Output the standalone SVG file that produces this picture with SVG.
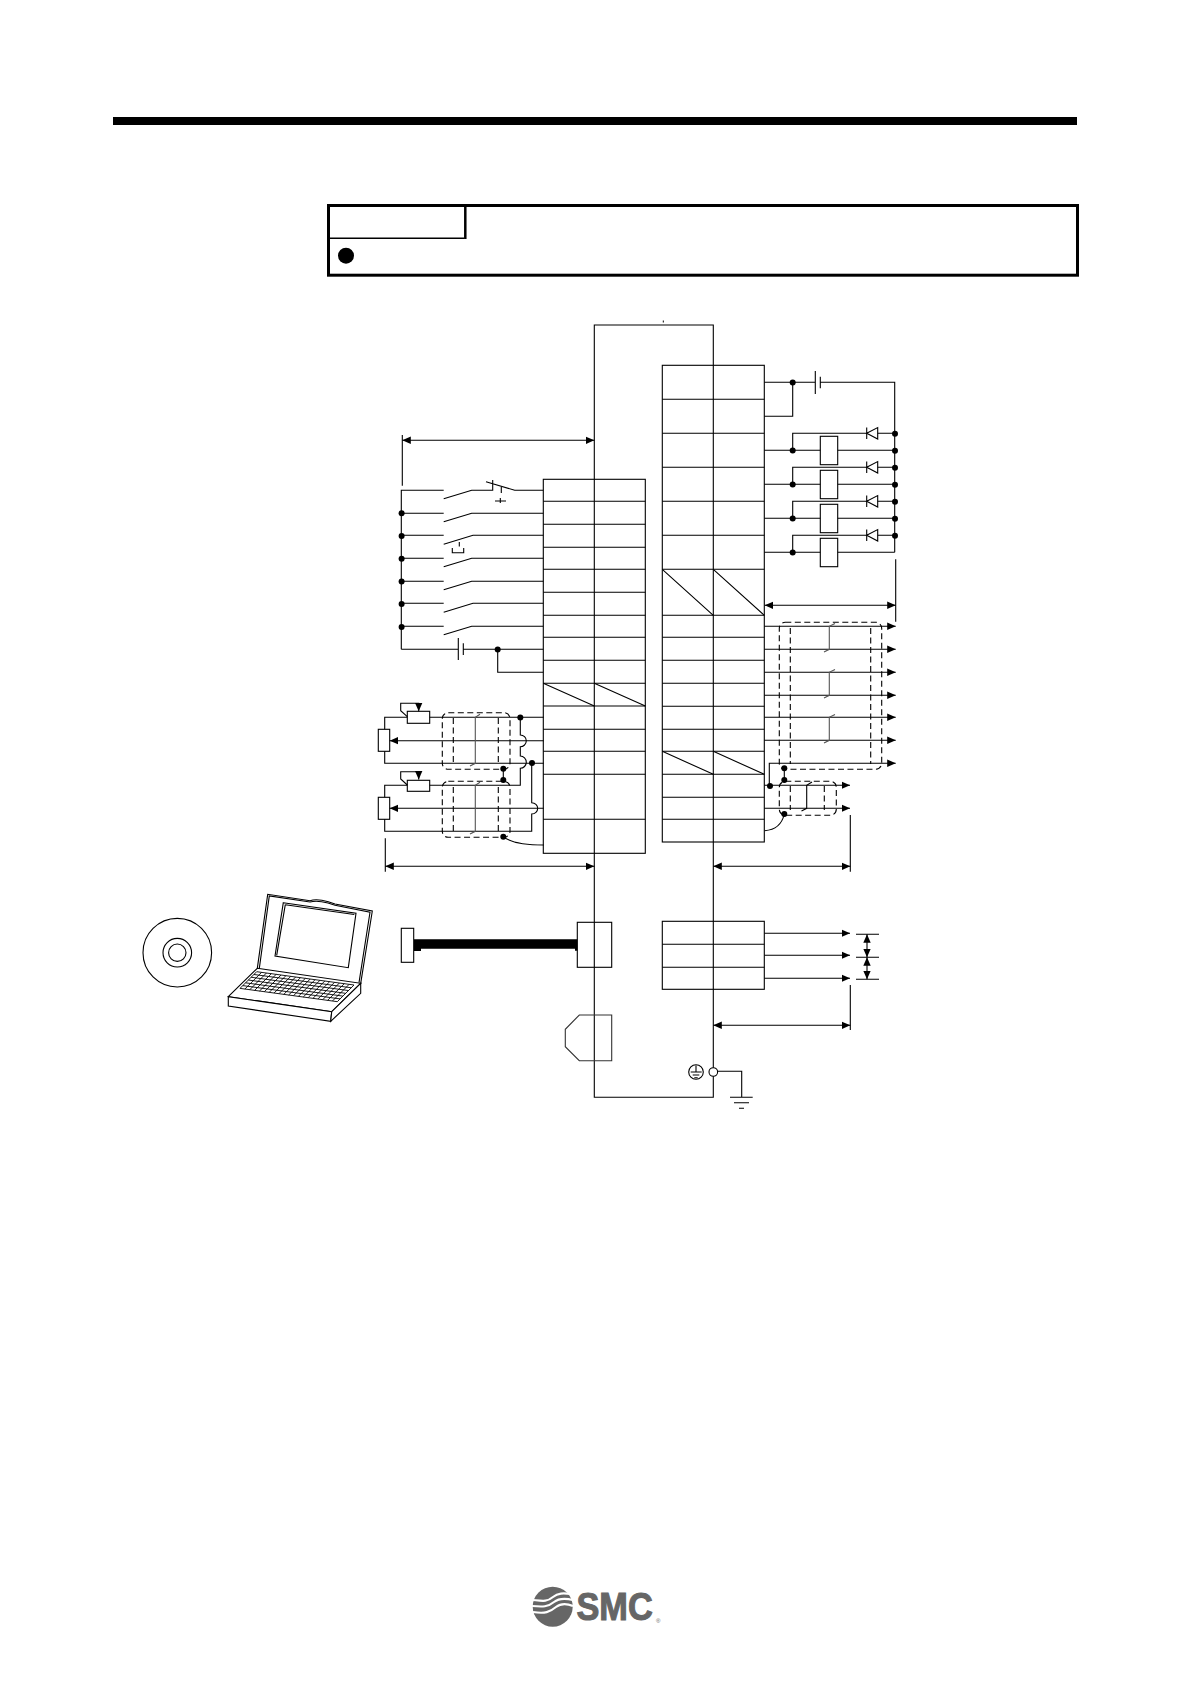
<svg xmlns="http://www.w3.org/2000/svg" width="1191" height="1684" viewBox="0 0 1191 1684">
<style>
.w{fill:none;stroke:#000;stroke-width:1.1}
.b{fill:#fff;stroke:#000;stroke-width:1.1}
.t{fill:none;stroke:#555;stroke-width:1.1}
.s{fill:none;stroke:#000;stroke-width:1.1;stroke-dasharray:6 3.5}
.d{fill:#000}
.a{marker-end:url(#ah)}
.aa{marker-start:url(#ah);marker-end:url(#ah)}
.al{marker-start:url(#ah)}
</style>
<defs>
<marker id="ah" markerUnits="userSpaceOnUse" markerWidth="10" markerHeight="10" refX="8.5" refY="4.5" orient="auto-start-reverse">
<path d="M0,0.8 L8.5,4.5 L0,8.2 Z" fill="#000"/>
</marker>
</defs>
<rect width="1191" height="1684" fill="#fff"/>

<g id="header-bar"><rect x="113" y="117" width="964" height="8" fill="#000"/></g>

<g id="note-box">
<rect x="328.5" y="205.5" width="749" height="69.7" fill="none" stroke="#000" stroke-width="3"/>
<path d="M464,238.3 H330" fill="none" stroke="#000" stroke-width="1.5"/>
<path d="M465.3,206 V239" fill="none" stroke="#000" stroke-width="2.5"/>
<circle cx="346" cy="255.7" r="8" class="d"/>
</g>

<g id="main-frame">
<path class="w" d="M594.3,1097.3 V325 H713.3 V1097.3 Z"/>
<path d="M663.3,320.5 V322.5" stroke="#000" fill="none"/>
</g>

<g id="block-right-upper">
<rect class="w" x="662.3" y="365.3" width="102" height="476.7"/>
<path class="w" d="M662.3,399.3 H764.3 M662.3,433.3 H764.3 M662.3,467.3 H764.3 M662.3,501.3 H764.3 M662.3,535.3 H764.3 M662.3,569.3 H764.3 M662.3,615.3 H764.3 M662.3,637.3 H764.3 M662.3,660.3 H764.3 M662.3,683.3 H764.3 M662.3,706.3 H764.3 M662.3,729.3 H764.3 M662.3,751.3 H764.3 M662.3,774.3 H764.3 M662.3,797.3 H764.3 M662.3,819.3 H764.3"/>
<path class="w" d="M662.3,569.3 L713.3,615.3 M713.3,569.3 L764.3,615.3 M662.3,751.3 L713.3,774.3 M713.3,751.3 L764.3,774.3"/>
</g>

<g id="block-left">
<rect class="w" x="543.3" y="479.3" width="102" height="374"/>
<path class="w" d="M543.3,501.3 H645.3 M543.3,524.3 H645.3 M543.3,547.3 H645.3 M543.3,569.3 H645.3 M543.3,592.3 H645.3 M543.3,615.3 H645.3 M543.3,637.3 H645.3 M543.3,660.3 H645.3 M543.3,683.3 H645.3 M543.3,706 H645.3 M543.3,729.3 H645.3 M543.3,751.3 H645.3 M543.3,774.3 H645.3 M543.3,819.3 H645.3"/>
<path class="w" d="M543.3,683.3 L594.3,706 M594.3,683.3 L645.3,706"/>
</g>

<g id="block-right-lower">
<rect class="w" x="662.3" y="921.3" width="102" height="68"/>
<path class="w" d="M662.3,944.3 H764.3 M662.3,967.3 H764.3"/>
</g>

<g id="connector-usb">
<rect class="w" x="577.3" y="922.3" width="34.4" height="45"/>
</g>
<g id="connector-plug">
<path d="M611.7,1015 H579.3 L565.3,1029.3 V1046.7 L579.3,1060.7 H611.7 Z" fill="none" stroke="#333" stroke-width="1.1"/>
</g>
<g id="usb-plug">
<rect class="w" x="401.3" y="928.3" width="12.4" height="34"/>
</g>

<g id="disc">
<circle class="w" cx="177.3" cy="952.7" r="34.3"/>
<circle class="w" cx="177.3" cy="952.7" r="14.3"/>
<circle class="w" cx="177.3" cy="952.7" r="8.7"/>
</g>

<g id="laptop">
<path class="w" d="M257.3,968.3 L267.7,894.3 L310,900.7 Q316.7,898.5 328.3,901.7 L335,904 L372.3,911 L360.7,983.3"/>
<path class="w" d="M259.3,968.3 L269.3,896 L310,902 Q316.7,900 328,903 L335,905.3 L370,912.3 L359,982.7"/>
<path class="w" d="M283.3,902.7 L356,913.3 L348.3,967.7 L275,956 Z"/>
<path class="w" d="M285.3,904.7 L354.3,914.5 M285.3,904.7 L276.7,955.3"/>
<path class="b" d="M257.3,968.3 L360.7,983.3 L331.7,1011.7 L228.3,996.7 Z"/>
<path class="b" d="M228.3,996.7 V1006 L330.7,1021.3 L331.7,1011.7 Z"/>
<path class="b" d="M331.7,1011.7 L330.7,1021.3 L360.7,993.3 V983.3 Z"/>
<path transform="matrix(4.865 .665 -2.78 2.78 256.7 971.7)" fill="none" stroke="#000" stroke-width=".9" vector-effect="non-scaling-stroke" d="M0,0H20M0,1H20M0,2H20M0,3H20M0,4H20M0,5H20M0,6H20M0,0V6M1,0V6M2,0V6M3,0V6M4,0V6M5,0V6M6,0V6M7,0V6M8,0V6M9,0V6M10,0V6M11,0V6M12,0V6M13,0V6M14,0V6M15,0V6M16,0V6M17,0V6M18,0V6M19,0V6M20,0V6"/>
</g>

<g id="pot-1">
<rect class="b" x="407.3" y="711.3" width="22.4" height="12"/>
<rect class="b" x="378.3" y="729.3" width="11.4" height="22"/>
</g>
<g id="pot-2">
<rect class="b" x="407.3" y="780.3" width="22.4" height="11"/>
<rect class="b" x="378.3" y="797.3" width="11.4" height="22"/>
</g>

<g id="shields">
<rect class="s" x="442.3" y="712.7" width="67.7" height="56.6" rx="6"/>
<path class="s" d="M453.3,718 V764 M498.3,718 V764"/>
<rect class="s" x="442.3" y="781.3" width="67.7" height="56" rx="6"/>
<path class="s" d="M453.3,787 V832 M498.3,787 V832"/>
<rect class="s" x="779.3" y="622.3" width="102.4" height="147" rx="6"/>
<path class="s" d="M790.3,628 V764 M870.7,628 V764"/>
<rect class="s" x="779.3" y="781.3" width="57" height="34" rx="6"/>
<path class="s" d="M790.3,786 V810 M824.3,786 V810"/>
</g>

<g id="relays">
<rect class="b" x="820.3" y="436.3" width="17.4" height="28.4"/>
<rect class="b" x="820.3" y="470.3" width="17.4" height="28.4"/>
<rect class="b" x="820.3" y="504.3" width="17.4" height="28.4"/>
<rect class="b" x="820.3" y="538.3" width="17.4" height="28.4"/>
</g>

<g id="connectors">
<path class="w" d="M401.3,649.3 V490.3 H443.7 M443.7,498.7 L471.7,490.3 H492.7 V480 M486,481.7 L514.7,490.3 H543.3"/>
<path class="w" d="M501.3,487 V493 M495,501 H506 M500.3,498 V503"/>
<path class="w" d="M401.3,513.3 H443.7 M443.7,521.7 L471.7,513.3 H543.3"/>
<path class="w" d="M401.3,535.3 H443.7 M443.7,544.3 L473,535.3 H543.3"/>
<path class="w" d="M459.3,542 V546.5 M452.3,548 V552.7 H463.7 V548"/>
<path class="w" d="M401.3,558.3 H443.7 M443.7,566.7 L471.7,558.3 H543.3"/>
<path class="w" d="M401.3,581.3 H443.7 M443.7,589.7 L471.7,581.3 H543.3"/>
<path class="w" d="M401.3,603.3 H443.7 M443.7,612.3 L473,603.3 H543.3"/>
<path class="w" d="M401.3,626.3 H443.7 M443.7,634.7 L471.7,626.3 H543.3"/>
<path class="w" d="M401.3,649.3 H458.3 M458.3,638 V660 M463.3,643.3 V655 M463.3,649.3 H543.3 M497.7,649.3 V672.3 H543.3"/>
<path class="w" d="M407.3,717.3 H384.7 V729.3 M384.7,751.3 V763.3 H543.7 M429.7,717.3 H543.7"/>
<path class="w al" d="M389.7,740.7 H543.7"/>
<path class="w a" d="M407.3,716.7 L400.7,710.7 V703.3 H418.7 V711.3"/>
<path class="w" d="M520.3,717.3 V735 A6,5.85 0 0 1 520.3,746.7 V756 A6,6.15 0 0 1 520.3,768.3 V785.3 H429.7"/>
<path class="w" d="M407.3,785.3 H384.7 V797.3 M384.7,819.3 V831.3 H531.7 V814 A6,5.65 0 0 0 531.7,802.7 V763.3"/>
<path class="w al" d="M389.7,808.3 H543.7"/>
<path class="w a" d="M407.3,785 L400.7,779 V771.7 H418.7 V779.5"/>
<path class="w" d="M503.3,768.7 V780"/>
<path class="w" d="M503.3,836.7 C510,842 525,845 543.7,845"/>
<path class="t" d="M480,714.3 L475.3,717.3 V763.3 L470,766 M480,782.3 L475.3,785.3 V831.3 L470,834"/>
<path class="w" d="M764.3,382.3 H815.3 M815.3,371 V394 M820.3,376.7 V388.3 M820.3,382.3 H894.7 V552.3 M792.7,382.3 V416.3 H764.3"/>
<path class="w" d="M764.3,450.3 H820.3 M837.7,450.3 H894.7 M792.7,450.3 V433.3 H894.7"/>
<path class="w" d="M764.3,484.3 H820.3 M837.7,484.3 H894.7 M792.7,484.3 V467.3 H894.7"/>
<path class="w" d="M764.3,518.3 H820.3 M837.7,518.3 H894.7 M792.7,518.3 V501.3 H894.7"/>
<path class="w" d="M764.3,552.3 H820.3 M837.7,552.3 H894.7 M792.7,552.3 V535.3 H894.7"/>
<path class="b" d="M866.7,433.3 L877.7,427.6 V439 Z M866.7,427.6 V439"/>
<path class="b" d="M866.7,467.3 L877.7,461.6 V473 Z M866.7,461.6 V473"/>
<path class="b" d="M866.7,501.3 L877.7,495.6 V507 Z M866.7,495.6 V507"/>
<path class="b" d="M866.7,535.3 L877.7,529.6 V541 Z M866.7,529.6 V541"/>
<path class="w a" d="M764.3,626.3 H895.7"/>
<path class="w a" d="M764.3,649.3 H895.7"/>
<path class="w a" d="M764.3,672.3 H895.7"/>
<path class="w a" d="M764.3,695.3 H895.7"/>
<path class="w a" d="M764.3,717.3 H895.7"/>
<path class="w a" d="M764.3,740.3 H895.7"/>
<path class="w a" d="M769.3,786 V763.3 H895.7"/>
<path class="w a" d="M764.3,785.3 H850"/>
<path class="w a" d="M764.3,808.3 H850"/>
<path class="w" d="M784.3,768.3 V780 M784.3,814 C782,824 775,830 764.7,830.7"/>
<path class="t" d="M835,623.5 L829.3,626.3 V649.3 L824,652 M835,669.5 L829.3,672.3 V695.3 L824,698 M835,714.5 L829.3,717.3 V740.3 L824,743"/>
<path class="w" d="M812,782 L806.7,785.3 V808.3 L801.5,811"/>
<path class="w a" d="M764.3,933.3 H850"/>
<path class="w a" d="M764.3,955.3 H850"/>
<path class="w a" d="M764.3,978.3 H850"/>
<path class="w aa" d="M867,934.3 V957.3"/>
<path class="w aa" d="M867,957.3 V979.3"/>
<path class="w" d="M856,934.3 H879 M856,957.3 H879 M856,979.3 H879"/>
<path d="M414,939.3 H577.3 V950.7 H575 V948.7 H421 V951 H414 Z" fill="#000"/>
<path class="w" d="M717.5,1071.3 H741.7 V1097.3 M730,1097.3 H752.7 M734,1102.7 H749 M739,1108.3 H744"/>
<path class="w aa" d="M402.3,440.3 H594.3"/>
<path class="w" d="M402.3,435 V485.7"/>
<path class="w aa" d="M385.3,866.3 H594.3"/>
<path class="w" d="M385.3,838.3 V871.7"/>
<path class="w aa" d="M764.7,605.3 H895.7"/>
<path class="w" d="M895.7,559.3 V621.7"/>
<path class="w aa" d="M713.3,866.3 H850.3"/>
<path class="w" d="M850.3,815 V871.7"/>
<path class="w aa" d="M713.3,1025.3 H850.3"/>
<path class="w" d="M850.3,985 V1030"/>
</g>

<g id="junctions">
<circle class="d" cx="401.6" cy="513.3" r="3"/>
<circle class="d" cx="401.6" cy="536" r="3"/>
<circle class="d" cx="401.6" cy="558.7" r="3"/>
<circle class="d" cx="401.6" cy="581.6" r="3"/>
<circle class="d" cx="401.6" cy="604" r="3"/>
<circle class="d" cx="401.6" cy="627" r="3"/>
<circle class="d" cx="497.7" cy="649.5" r="3"/>
<circle class="d" cx="520.3" cy="717.6" r="3"/>
<circle class="d" cx="532" cy="763" r="3"/>
<circle class="d" cx="503.3" cy="768.7" r="3"/>
<circle class="d" cx="503.3" cy="780" r="3"/>
<circle class="d" cx="503.3" cy="836.7" r="3"/>
<circle class="d" cx="792.7" cy="382.6" r="3"/>
<circle class="d" cx="792.7" cy="450.6" r="3"/>
<circle class="d" cx="792.7" cy="484.6" r="3"/>
<circle class="d" cx="792.7" cy="518.6" r="3"/>
<circle class="d" cx="792.7" cy="552.6" r="3"/>
<circle class="d" cx="895" cy="433.7" r="3"/>
<circle class="d" cx="895" cy="450.7" r="3"/>
<circle class="d" cx="895" cy="467.7" r="3"/>
<circle class="d" cx="895" cy="484.7" r="3"/>
<circle class="d" cx="895" cy="501.7" r="3"/>
<circle class="d" cx="895" cy="518.7" r="3"/>
<circle class="d" cx="895" cy="535.7" r="3"/>
<circle class="d" cx="784.3" cy="768.3" r="3"/>
<circle class="d" cx="784.3" cy="780" r="3"/>
<circle class="d" cx="770" cy="786" r="3"/>
<circle class="d" cx="784.3" cy="814" r="3"/>
</g>

<g id="earth-terminal">
<circle class="b" cx="713.3" cy="1072" r="4.3"/>
<circle class="w" cx="696" cy="1072" r="7.3"/>
<path class="w" d="M696,1065.5 V1072 M690.7,1072 H701.7 M692.7,1075 H699.3 M694.3,1077.7 H697.7"/>
</g>

<g id="logo">
<circle cx="552.7" cy="1606.7" r="20" fill="#666"/>
<path d="M533,1600 C543,1601 547,1602 553,1597 C558,1593 563,1593 571,1594" fill="none" stroke="#fff" stroke-width="2.2"/>
<path d="M532,1606 C543,1607 548,1607 554,1602 C559,1598 565,1598 573,1600" fill="none" stroke="#fff" stroke-width="2.2"/>
<path d="M533,1612 C545,1614 550,1612 556,1607 C561,1603 566,1603 573,1606" fill="none" stroke="#fff" stroke-width="2.2"/>
<text transform="translate(576.5 1620) scale(.98 1.114)" font-family="'Liberation Sans',Arial,sans-serif" font-weight="700" font-size="35" fill="#666" stroke="#666" stroke-width="1">SMC</text>
<text x="656" y="1623" font-family="'Liberation Sans',Arial,sans-serif" font-size="6" fill="#666">®</text>
</g>
</svg>
